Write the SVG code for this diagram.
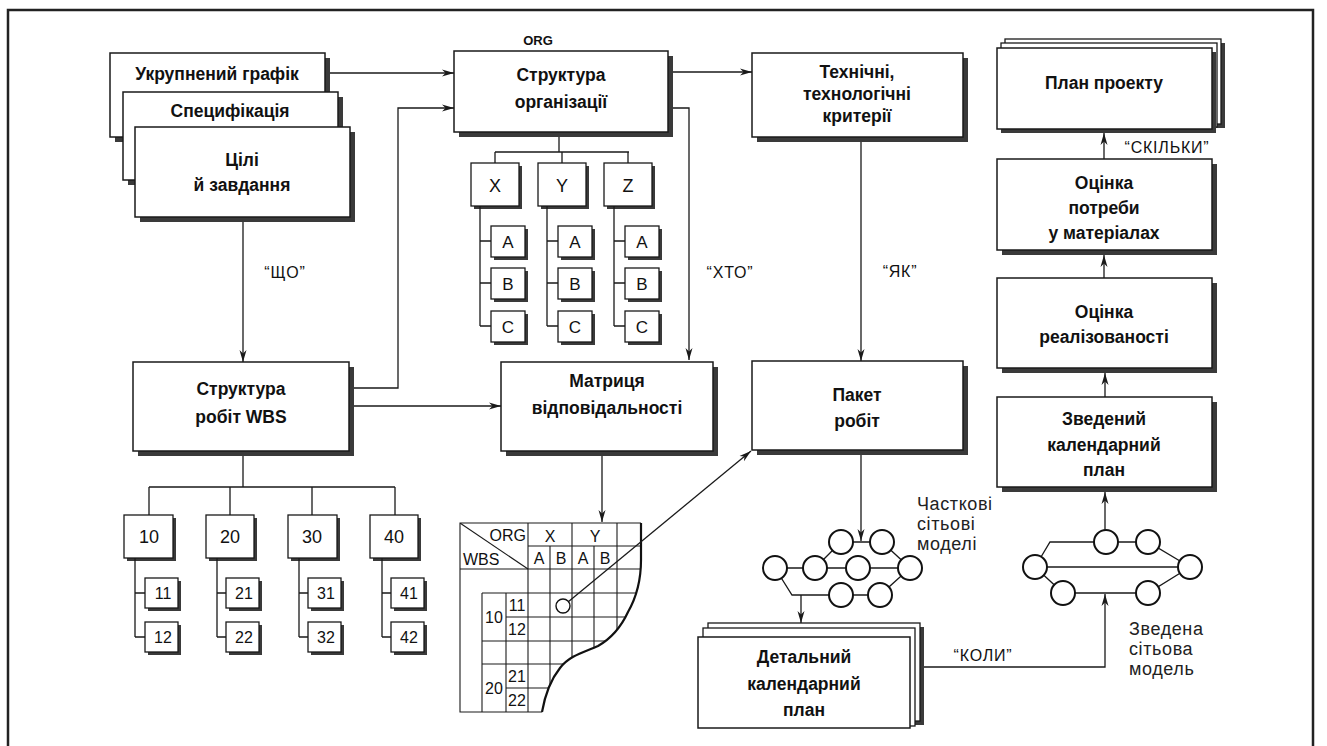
<svg xmlns="http://www.w3.org/2000/svg" width="1327" height="746" viewBox="0 0 1327 746">
  <style>
    .box { fill: #fff; stroke: #1a1a1a; stroke-width: 1.5; }
    .sbox { fill: #fff; stroke: #1a1a1a; stroke-width: 1.3; }
    .shadow { fill: #3a3a3a; }
    .hd { font-family: "Liberation Sans", Arial, sans-serif; font-weight: bold; font-size: 17.5px; text-anchor: middle; fill: #111; }
    .lbl { font-family: "Liberation Sans", Arial, sans-serif; font-size: 16px; text-anchor: middle; fill: #111; letter-spacing: 0.8px; }
    .num { font-family: "Liberation Sans", Arial, sans-serif; font-size: 18px; text-anchor: middle; fill: #111; }
    .sub { font-family: "Liberation Sans", Arial, sans-serif; font-size: 16px; text-anchor: middle; fill: #111; }
    .note { font-family: "Liberation Sans", Arial, sans-serif; font-size: 18px; fill: #222; letter-spacing: 0.6px; }
    .mt { font-family: "Liberation Sans", Arial, sans-serif; font-size: 16px; fill: #111; }
    .conn { fill: none; stroke: #1a1a1a; stroke-width: 1.3; }
    .grid { fill: none; stroke: #1a1a1a; stroke-width: 1.1; }
    .node { fill: #fff; stroke: #111; stroke-width: 2; }
    .edge { fill: none; stroke: #1a1a1a; stroke-width: 1.3; }
  </style>
  <defs>
    <marker id="arrow" viewBox="0 0 12 8" refX="12" refY="4" markerWidth="12" markerHeight="8" markerUnits="userSpaceOnUse" orient="auto">
      <path d="M0,0.5 L12,4 L0,7.5 L3.5,4 Z" fill="#1a1a1a"/>
    </marker>
    <clipPath id="torn">
      <path d="M460,523 L641,523 L641,560 C641,580 636,598 628,612 C622,625 612,638 598,646 C585,652 570,655 560,668 C552,678 545,695 542,712 L460,712 Z"/>
    </clipPath>
  </defs>

  <rect width="1327" height="746" fill="#fff"/>
  <!-- frame -->
  <path d="M8,750 L8,10 L1313,10 L1313,750" fill="none" stroke="#222" stroke-width="2.5"/>

  <!-- stacked input sheets -->
  <g id="stack-goals">
    <rect class="shadow" x="115" y="58" width="215" height="84"/>
    <rect class="box" x="110" y="53" width="215" height="84"/>
    <text class="hd" x="217" y="80">Укрупнений графік</text>
    <rect class="shadow" x="128" y="97" width="215" height="88"/>
    <rect class="box" x="123" y="92" width="215" height="88"/>
    <text class="hd" x="230" y="117">Специфікація</text>
    <rect class="shadow" x="140" y="132" width="215" height="90"/>
    <rect class="box" x="135" y="127" width="215" height="90"/>
    <text class="hd" x="242" y="166">Цілі</text>
    <text class="hd" x="242" y="191">й завдання</text>
  </g>

  <g id="org-structure">
    <text class="hd" x="538" y="45" style="font-size:13px">ORG</text>
    <rect class="shadow" x="459" y="56" width="214" height="81"/>
    <rect class="box" x="454" y="51" width="214" height="81"/>
    <text class="hd" x="561" y="81">Структура</text>
    <text class="hd" x="561" y="108">організації</text>
  </g>

  <g id="criteria">
    <rect class="shadow" x="757" y="58" width="211" height="84"/>
    <rect class="box" x="752" y="53" width="211" height="84"/>
    <text class="hd" x="857" y="78">Технічні,</text>
    <text class="hd" x="857" y="100">технологічні</text>
    <text class="hd" x="857" y="122">критерії</text>
  </g>

  <!-- organisation units -->
  <g id="org-units">
    <rect class="shadow" x="474" y="166" width="48" height="43"/>
    <rect class="sbox" x="471" y="163" width="48" height="43"/>
    <text class="num" x="495" y="192">X</text>
    <rect class="shadow" x="541" y="166" width="48" height="43"/>
    <rect class="sbox" x="538" y="163" width="48" height="43"/>
    <text class="num" x="562" y="192">Y</text>
    <rect class="shadow" x="607" y="166" width="48" height="43"/>
    <rect class="sbox" x="604" y="163" width="48" height="43"/>
    <text class="num" x="628" y="192">Z</text>
  </g>
  <g id="org-subunits">
    <g>
      <rect class="shadow" x="494" y="229" width="34" height="31"/>
      <rect class="sbox" x="491" y="226" width="34" height="31"/>
      <text class="num" x="508" y="248" style="font-size:17px">A</text>
      <rect class="shadow" x="494" y="271" width="34" height="31"/>
      <rect class="sbox" x="491" y="268" width="34" height="31"/>
      <text class="num" x="508" y="290" style="font-size:17px">B</text>
      <rect class="shadow" x="494" y="314" width="34" height="31"/>
      <rect class="sbox" x="491" y="311" width="34" height="31"/>
      <text class="num" x="508" y="333" style="font-size:17px">C</text>
    </g>
    <g>
      <rect class="shadow" x="561" y="229" width="34" height="31"/>
      <rect class="sbox" x="558" y="226" width="34" height="31"/>
      <text class="num" x="575" y="248" style="font-size:17px">A</text>
      <rect class="shadow" x="561" y="271" width="34" height="31"/>
      <rect class="sbox" x="558" y="268" width="34" height="31"/>
      <text class="num" x="575" y="290" style="font-size:17px">B</text>
      <rect class="shadow" x="561" y="314" width="34" height="31"/>
      <rect class="sbox" x="558" y="311" width="34" height="31"/>
      <text class="num" x="575" y="333" style="font-size:17px">C</text>
    </g>
    <g>
      <rect class="shadow" x="628" y="229" width="34" height="31"/>
      <rect class="sbox" x="625" y="226" width="34" height="31"/>
      <text class="num" x="642" y="248" style="font-size:17px">A</text>
      <rect class="shadow" x="628" y="271" width="34" height="31"/>
      <rect class="sbox" x="625" y="268" width="34" height="31"/>
      <text class="num" x="642" y="290" style="font-size:17px">B</text>
      <rect class="shadow" x="628" y="314" width="34" height="31"/>
      <rect class="sbox" x="625" y="311" width="34" height="31"/>
      <text class="num" x="642" y="333" style="font-size:17px">C</text>
    </g>
  </g>

  <g id="wbs">
    <rect class="shadow" x="138" y="367" width="216" height="89"/>
    <rect class="box" x="133" y="362" width="216" height="89"/>
    <text class="hd" x="241" y="395">Структура</text>
    <text class="hd" x="241" y="423">робіт WBS</text>
  </g>

  <g id="responsibility-matrix">
    <rect class="shadow" x="506" y="367" width="212" height="89"/>
    <rect class="box" x="501" y="362" width="212" height="89"/>
    <text class="hd" x="607" y="387">Матриця</text>
    <text class="hd" x="607" y="414">відповідальності</text>
  </g>

  <g id="work-package">
    <rect class="shadow" x="757" y="366" width="211" height="89"/>
    <rect class="box" x="752" y="361" width="211" height="89"/>
    <text class="hd" x="857" y="401">Пакет</text>
    <text class="hd" x="857" y="427">робіт</text>
  </g>

  <!-- WBS elements -->
  <g id="wbs-elements">
    <rect class="shadow" x="127" y="518" width="49" height="43"/>
    <rect class="sbox" x="124" y="515" width="49" height="43"/>
    <text class="num" x="149" y="543">10</text>
    <rect class="shadow" x="209" y="518" width="48" height="43"/>
    <rect class="sbox" x="206" y="515" width="48" height="43"/>
    <text class="num" x="230" y="543">20</text>
    <rect class="shadow" x="291" y="518" width="49" height="43"/>
    <rect class="sbox" x="288" y="515" width="49" height="43"/>
    <text class="num" x="312" y="543">30</text>
    <rect class="shadow" x="373" y="518" width="48" height="43"/>
    <rect class="sbox" x="370" y="515" width="48" height="43"/>
    <text class="num" x="394" y="543">40</text>
  </g>
  <g id="wbs-subelements">
    <rect class="shadow" x="148" y="581" width="33" height="30"/>
    <rect class="sbox" x="145" y="578" width="33" height="30"/>
    <text class="sub" x="163" y="599">11</text>
    <rect class="shadow" x="148" y="625" width="33" height="30"/>
    <rect class="sbox" x="145" y="622" width="33" height="30"/>
    <text class="sub" x="163" y="643">12</text>
    <rect class="shadow" x="229" y="581" width="33" height="30"/>
    <rect class="sbox" x="226" y="578" width="33" height="30"/>
    <text class="sub" x="244" y="599">21</text>
    <rect class="shadow" x="229" y="625" width="33" height="30"/>
    <rect class="sbox" x="226" y="622" width="33" height="30"/>
    <text class="sub" x="244" y="643">22</text>
    <rect class="shadow" x="311" y="581" width="33" height="30"/>
    <rect class="sbox" x="308" y="578" width="33" height="30"/>
    <text class="sub" x="326" y="599">31</text>
    <rect class="shadow" x="311" y="625" width="33" height="30"/>
    <rect class="sbox" x="308" y="622" width="33" height="30"/>
    <text class="sub" x="326" y="643">32</text>
    <rect class="shadow" x="394" y="581" width="33" height="30"/>
    <rect class="sbox" x="391" y="578" width="33" height="30"/>
    <text class="sub" x="409" y="599">41</text>
    <rect class="shadow" x="394" y="625" width="33" height="30"/>
    <rect class="sbox" x="391" y="622" width="33" height="30"/>
    <text class="sub" x="409" y="643">42</text>
  </g>

  <!-- responsibility matrix sheet with torn edge -->
  <g id="matrix-sheet">
    <path d="M460,523 L641,523 L641,560 C641,580 636,598 628,612 C622,625 612,638 598,646 C585,652 570,655 560,668 C552,678 545,695 542,712 L460,712 Z" fill="#fff"/>
    <g clip-path="url(#torn)" class="grid">
      <path d="M460,523 L528,569"/>
      <path d="M528,523 V712 M572,523 V712 M617,523 V712 M550,546 V712 M594,546 V712"/>
      <path d="M528,546 H641 M460,569 H641 M482,593 H641 M506,617 H641 M482,641 H641 M482,664 H641 M506,688 H641"/>
      <path d="M482,593 V712 M506,593 V712"/>
    </g>
    <path d="M641,523 L460,523 L460,712 L542,712" class="grid" stroke-width="1.4"/>
    <path d="M641,523 L641,560 C641,580 636,598 628,612 C622,625 612,638 598,646 C585,652 570,655 560,668 C552,678 545,695 542,712" fill="none" stroke="#111" stroke-width="2.2"/>
    <text class="mt" x="526" y="541" text-anchor="end">ORG</text>
    <text class="mt" x="463" y="565">WBS</text>
    <text class="mt" x="550" y="542" text-anchor="middle">X</text>
    <text class="mt" x="595" y="542" text-anchor="middle">Y</text>
    <text class="mt" x="539" y="564" text-anchor="middle">A</text>
    <text class="mt" x="561" y="564" text-anchor="middle">B</text>
    <text class="mt" x="583" y="564" text-anchor="middle">A</text>
    <text class="mt" x="605" y="564" text-anchor="middle">B</text>
    <text class="mt" x="494" y="623" text-anchor="middle">10</text>
    <text class="mt" x="517" y="611" text-anchor="middle">11</text>
    <text class="mt" x="517" y="635" text-anchor="middle">12</text>
    <text class="mt" x="494" y="694" text-anchor="middle">20</text>
    <text class="mt" x="517" y="682" text-anchor="middle">21</text>
    <text class="mt" x="517" y="706" text-anchor="middle">22</text>
  </g>

  <!-- partial network models -->
  <g id="partial-networks">
    <g class="edge">
      <path d="M775,568 H910"/>
      <path d="M815,568 L841,542 H882 L910,568"/>
      <path d="M775,568 L792,595 H880 L910,568"/>
    </g>
    <circle class="node" cx="775" cy="568" r="12"/>
    <circle class="node" cx="815" cy="568" r="12"/>
    <circle class="node" cx="858" cy="568" r="12"/>
    <circle class="node" cx="910" cy="568" r="12"/>
    <circle class="node" cx="841" cy="542" r="12"/>
    <circle class="node" cx="882" cy="542" r="12"/>
    <circle class="node" cx="841" cy="595" r="12"/>
    <circle class="node" cx="880" cy="595" r="12"/>
    <text class="note" x="917" y="510">Часткові</text>
    <text class="note" x="917" y="530">сітьові</text>
    <text class="note" x="917" y="550">моделі</text>
  </g>

  <g id="detailed-schedule">
    <rect class="shadow" x="712" y="627" width="212" height="98"/>
    <rect class="sbox" x="708" y="623" width="212" height="98"/>
    <rect class="sbox" x="703" y="628" width="212" height="98"/>
    <rect class="box" x="698" y="637" width="212" height="91"/>
    <text class="hd" x="804" y="663">Детальний</text>
    <text class="hd" x="804" y="690">календарний</text>
    <text class="hd" x="804" y="716">план</text>
  </g>

  <!-- summary network model -->
  <g id="summary-network">
    <g class="edge">
      <path d="M1035,567 H1190"/>
      <path d="M1035,567 L1050,542 H1148 L1190,567"/>
      <path d="M1035,567 L1063,593 H1148 L1190,567"/>
    </g>
    <circle class="node" cx="1035" cy="567" r="12"/>
    <circle class="node" cx="1106" cy="542" r="12"/>
    <circle class="node" cx="1148" cy="542" r="12"/>
    <circle class="node" cx="1190" cy="567" r="12"/>
    <circle class="node" cx="1063" cy="593" r="12"/>
    <circle class="node" cx="1148" cy="593" r="12"/>
    <text class="note" x="1129" y="635">Зведена</text>
    <text class="note" x="1129" y="655">сітьова</text>
    <text class="note" x="1129" y="675">модель</text>
  </g>

  <g id="summary-schedule">
    <rect class="shadow" x="1002" y="402" width="215" height="90"/>
    <rect class="box" x="997" y="397" width="215" height="90"/>
    <text class="hd" x="1104" y="425">Зведений</text>
    <text class="hd" x="1104" y="451">календарний</text>
    <text class="hd" x="1104" y="476">план</text>
  </g>

  <g id="feasibility">
    <rect class="shadow" x="1002" y="283" width="215" height="90"/>
    <rect class="box" x="997" y="278" width="215" height="90"/>
    <text class="hd" x="1104" y="318">Оцінка</text>
    <text class="hd" x="1104" y="343">реалізованості</text>
  </g>

  <g id="materials">
    <rect class="shadow" x="1002" y="164" width="215" height="91"/>
    <rect class="box" x="997" y="159" width="215" height="91"/>
    <text class="hd" x="1104" y="189">Оцінка</text>
    <text class="hd" x="1104" y="214">потреби</text>
    <text class="hd" x="1104" y="239">у матеріалах</text>
  </g>

  <g id="project-plan">
    <rect class="shadow" x="1009" y="43" width="216" height="85"/>
    <rect class="sbox" x="1005" y="39" width="216" height="85"/>
    <rect class="sbox" x="1001" y="43" width="216" height="84"/>
    <rect class="shadow" x="1001" y="52" width="215" height="81"/>
    <rect class="box" x="997" y="48" width="215" height="81"/>
    <text class="hd" x="1104" y="89">План проекту</text>
  </g>

  <!-- connectors -->
  <g id="connectors">
    <g class="conn">
      <!-- tree lines -->
      <path d="M559,137 V152 M495,152 H629 M495,152 V163 M562,152 V163 M628,152 V163"/>
      <path d="M480,206 V326 M480,241 H491 M480,283 H491 M480,326 H491"/>
      <path d="M547,206 V326 M547,241 H558 M547,283 H558 M547,326 H558"/>
      <path d="M614,206 V326 M614,241 H625 M614,283 H625 M614,326 H625"/>
      <path d="M243,456 V487 M149,487 H395 M149,487 V515 M230,487 V515 M312,487 V515 M395,487 V515"/>
      <path d="M135,558 V637 M135,593 H145 M135,637 H145"/>
      <path d="M217,558 V637 M217,593 H226 M217,637 H226"/>
      <path d="M299,558 V637 M299,593 H308 M299,637 H308"/>
      <path d="M382,558 V637 M382,593 H391 M382,637 H391"/>
    </g>
    <g class="conn" marker-end="url(#arrow)">
      <path d="M330,73 H454"/>
      <path d="M354,388 H398 V108 H454"/>
      <path d="M673,72 H752"/>
      <path d="M673,108 H689 V360"/>
      <path d="M243,222 V362"/>
      <path d="M354,406 H501"/>
      <path d="M861,142 V361"/>
      <path d="M602,456 V522"/>
      <path d="M568,602 L751,451"/>
      <path d="M861,455 V541"/>
      <path d="M801,595 V623"/>
      <path d="M924,667 H1105 V594"/>
      <path d="M1105,530 V492"/>
      <path d="M1105,397 V373"/>
      <path d="M1104,278 V255"/>
      <path d="M1104,159 V133"/>
    </g>
    <circle cx="563" cy="606" r="7" fill="#fff" stroke="#111" stroke-width="1.4"/>
    <text class="lbl" x="285" y="278">“ЩО”</text>
    <text class="lbl" x="730" y="278">“ХТО”</text>
    <text class="lbl" x="900" y="277">“ЯК”</text>
    <text class="lbl" x="1167" y="153">“СКІЛЬКИ”</text>
    <text class="lbl" x="983" y="661">“КОЛИ”</text>
  </g>
</svg>
